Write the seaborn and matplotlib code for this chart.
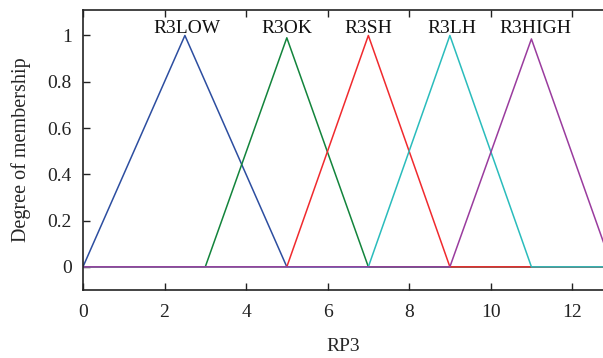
import matplotlib
matplotlib.use("Agg")
import matplotlib.pyplot as plt
import seaborn as sns
import pandas as pd

names = ["R3LOW", "R3OK", "R3SH", "R3LH", "R3HIGH"]
colors = ["#2d4ea0", "#13843c", "#f02a2e", "#2abcbc", "#9a3c9e"]
xs = [
    [0, 2.5, 5, 12.8],
    [0, 3, 5, 7, 12.8],
    [0, 5, 7, 9, 12.8],
    [0, 7, 9, 11, 12.8],
    [0, 9, 11, 12.8],
]
ys = [
    [0, 1, 0, 0],
    [0, 0, 0.99, 0, 0],
    [0, 0, 1, 0, 0],
    [0, 0, 1, 0, 0],
    [0, 0, 0.985, 0.09],
]
peaks_x = [2.55, 5.0, 7.0, 9.05, 11.1]
xticks = [0, 2, 4, 6, 8, 10, 12]
yticks = [0, 0.2, 0.4, 0.6, 0.8, 1]
yticklabels = ["0", "0.2", "0.4", "0.6", "0.8", "1"]

rows = []
for n, xv, yv in zip(names, xs, ys):
    for i, (a, b) in enumerate(zip(xv, yv)):
        rows.append({"mf": n, "order": i, "x": a, "y": b})
df = pd.DataFrame(rows)

sns.set_theme(style="white")
plt.rcParams["font.family"] = ["Liberation Serif", "DejaVu Serif"]

fig = plt.figure(figsize=(6.03, 3.58), dpi=100)
ax = fig.add_axes([0.1376, 0.19, 0.862, 0.782])
sns.lineplot(data=df, x="x", y="y", hue="mf", hue_order=names, palette=colors,
             sort=False, estimator=None, units="mf", legend=False, linewidth=1.1, ax=ax)

for n, px in zip(names, peaks_x):
    ax.text(px, 1.01, n, ha="center", va="baseline", fontsize=14, color="#111111")

ax.set_xlim(0, 12.75)
ax.set_ylim(-0.1, 1.11)
ax.set_xticks(xticks)
ax.set_yticks(yticks)
ax.set_yticklabels(yticklabels)
ax.tick_params(axis="both", direction="in", length=5, width=1, colors="#222222", labelsize=14,
               top=True, bottom=True, left=True, right=False, pad=8)
ax.tick_params(axis="x", pad=10)
for s in ["left", "top", "bottom"]:
    ax.spines[s].set_visible(True)
    ax.spines[s].set_color("#222222")
    ax.spines[s].set_linewidth(1.2)
ax.spines["right"].set_visible(False)
ax.set_xlabel("RP3", fontsize=14, labelpad=12)
ax.set_ylabel("Degree of membership", fontsize=14.5, labelpad=12)
ax.set_facecolor("white")
fig.savefig("out.png", dpi=100, facecolor="white")
